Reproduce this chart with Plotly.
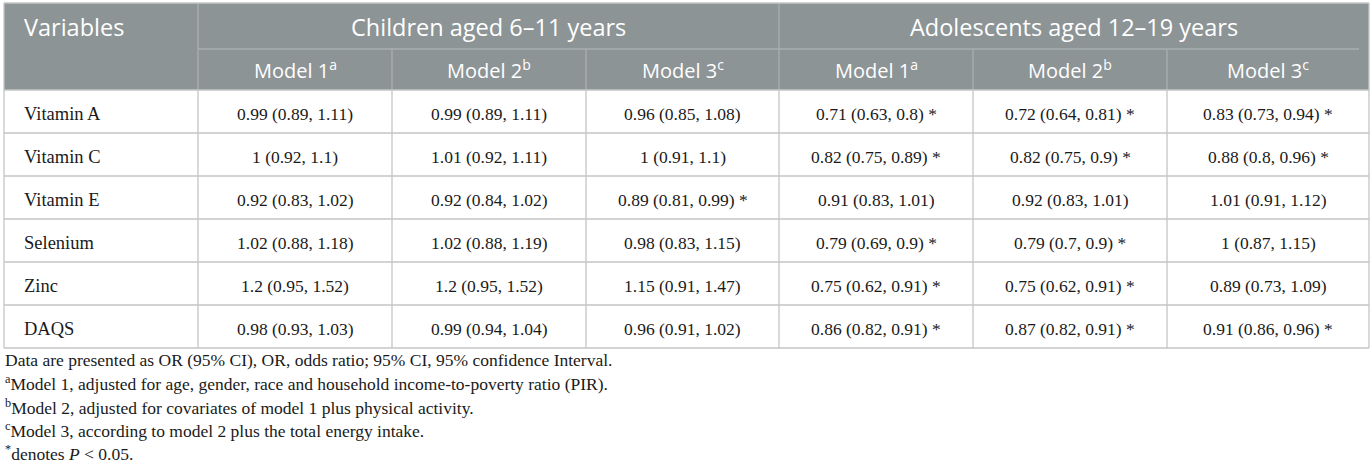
import plotly.graph_objects as go

# table content
variables = ["Vitamin A", "Vitamin C", "Vitamin E", "Selenium", "Zinc", "DAQS"]
groups = ["Children aged 6\u201311 years", "Adolescents aged 12\u201319 years"]
models = ["Model 1<sup>a</sup>", "Model 2<sup>b</sup>", "Model 3<sup>c</sup>"]

child_m1 = ["0.99 (0.89, 1.11)", "1 (0.92, 1.1)", "0.92 (0.83, 1.02)", "1.02 (0.88, 1.18)", "1.2 (0.95, 1.52)", "0.98 (0.93, 1.03)"]
child_m2 = ["0.99 (0.89, 1.11)", "1.01 (0.92, 1.11)", "0.92 (0.84, 1.02)", "1.02 (0.88, 1.19)", "1.2 (0.95, 1.52)", "0.99 (0.94, 1.04)"]
child_m3 = ["0.96 (0.85, 1.08)", "1 (0.91, 1.1)", "0.89 (0.81, 0.99) *", "0.98 (0.83, 1.15)", "1.15 (0.91, 1.47)", "0.96 (0.91, 1.02)"]
adol_m1 = ["0.71 (0.63, 0.8) *", "0.82 (0.75, 0.89) *", "0.91 (0.83, 1.01)", "0.79 (0.69, 0.9) *", "0.75 (0.62, 0.91) *", "0.86 (0.82, 0.91) *"]
adol_m2 = ["0.72 (0.64, 0.81) *", "0.82 (0.75, 0.9) *", "0.92 (0.83, 1.01)", "0.79 (0.7, 0.9) *", "0.75 (0.62, 0.91) *", "0.87 (0.82, 0.91) *"]
adol_m3 = ["0.83 (0.73, 0.94) *", "0.88 (0.8, 0.96) *", "1.01 (0.91, 1.12)", "1 (0.87, 1.15)", "0.89 (0.73, 1.09)", "0.91 (0.86, 0.96) *"]

footnotes = [
    "Data are presented as OR (95% CI), OR, odds ratio; 95% CI, 95% confidence Interval.",
    "<sup>a</sup>Model 1, adjusted for age, gender, race and household income-to-poverty ratio (PIR).",
    "<sup>b</sup>Model 2, adjusted for covariates of model 1 plus physical activity.",
    "<sup>c</sup>Model 3, according to model 2 plus the total energy intake.",
    "<sup>*</sup>denotes <i>P</i> &lt; 0.05.",
]

columns = [child_m1, child_m2, child_m3, adol_m1, adol_m2, adol_m3]

# geometry (pixels)
W, H = 1372, 475
col_x = [4, 198, 392, 586, 779, 973, 1167, 1369]
top, mid, hdr_bot = 3, 49, 90
row_h = 43
body_bot = hdr_bot + row_h * len(variables)

HEAD = "#8d9496"
HLINE = "#a9afb0"
BLINE = "#c3c6c6"
TXT = "#1a1a1a"
sans = "Open Sans"
serif = "Liberation Serif"

shapes = []
ann = []

def line(x0, y0, x1, y1, c, w=1.3):
    shapes.append(dict(type="line", xref="x", yref="y", x0=x0, y0=y0, x1=x1, y1=y1,
                       line=dict(color=c, width=w), layer="above"))

def text(x, y, s, size, color, font, anchor="center"):
    ann.append(dict(x=x, y=y, xref="x", yref="y", text=s, showarrow=False,
                    xanchor=anchor, yanchor="middle",
                    font=dict(family=font, size=size, color=color)))

# header background
shapes.append(dict(type="rect", xref="x", yref="y", x0=col_x[0], x1=col_x[-1], y0=top, y1=hdr_bot,
                   fillcolor=HEAD, line=dict(width=0), layer="below"))

# header lines
line(col_x[1], mid, col_x[-1] - 10, mid, HLINE)
line(col_x[1], top, col_x[1], hdr_bot, HLINE)
line(col_x[4], top, col_x[4], hdr_bot, HLINE)
for i in [2, 3, 5, 6]:
    line(col_x[i], mid, col_x[i], hdr_bot, HLINE)

# body grid
for r in range(len(variables) + 1):
    y = hdr_bot + r * row_h
    line(col_x[0], y, col_x[-1], y, BLINE)
for x in col_x:
    line(x, hdr_bot, x, body_bot, BLINE)
line(col_x[0], top, col_x[-1], top, BLINE)
line(col_x[0], top, col_x[0], hdr_bot, BLINE)
line(col_x[-1], top, col_x[-1], hdr_bot, BLINE)

# header texts
text(22, (top + mid) / 2 + 1, "Variables", 23.5, "white", sans, "left")
text((col_x[1] + col_x[4]) / 2, (top + mid) / 2 + 1, groups[0], 23.5, "white", sans)
text((col_x[4] + col_x[7]) / 2, (top + mid) / 2 + 1, groups[1], 23.5, "white", sans)
for j in range(6):
    text((col_x[j + 1] + col_x[j + 2]) / 2, (mid + hdr_bot) / 2, models[j % 3], 20, "white", sans)

# body texts
for r, v in enumerate(variables):
    yc = hdr_bot + (r + 0.5) * row_h + 2
    text(22, yc, v, 18.5, TXT, serif, "left")
    for j, col in enumerate(columns):
        text((col_x[j + 1] + col_x[j + 2]) / 2, yc, col[r], 17.5, TXT, serif)

# footnotes
for k, f in enumerate(footnotes):
    text(3, 360 + k * 23.3, f, 17.5, TXT, serif, "left")

fig = go.Figure()
fig.update_layout(
    width=W, height=H,
    margin=dict(l=0, r=0, t=0, b=0),
    paper_bgcolor="white", plot_bgcolor="white",
    xaxis=dict(range=[0, W], visible=False, fixedrange=True),
    yaxis=dict(range=[H, 0], visible=False, fixedrange=True),
    shapes=shapes, annotations=ann,
    showlegend=False,
)
# drop the default page margin so the figure sits at the window corner
fig.write_html("out.html", config={"displayModeBar": False},
               post_script="document.body.style.margin='0';")
